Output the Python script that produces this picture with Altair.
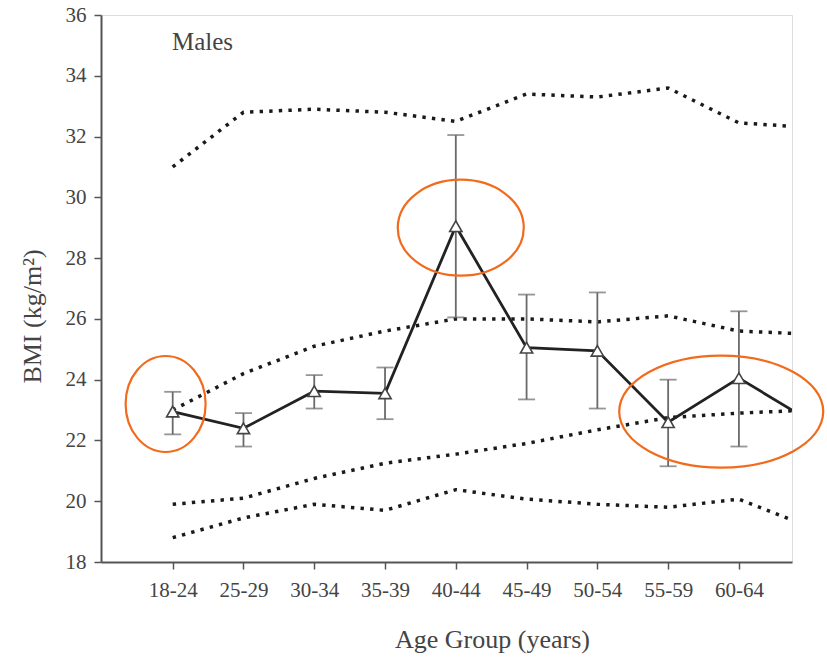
import altair as alt
import pandas as pd

# ---- data ----
age_groups = ["18-24", "25-29", "30-34", "35-39", "40-44", "45-49",
              "50-54", "55-59", "60-64", "65-69"]
bmi_mean = [22.95, 22.4, 23.62, 23.55, 29.05, 25.05, 24.95, 22.6, 24.05, 22.65]
bmi_low = [22.2, 21.8, 23.05, 22.7, 26.05, 23.35, 23.05, 21.15, 21.8]
bmi_high = [23.6, 22.9, 24.15, 24.4, 32.05, 26.8, 26.87, 24.0, 26.25]

pct_top = [31.0, 32.8, 32.9, 32.8, 32.5, 33.4, 33.3, 33.6, 32.45, 32.3]
pct_upper = [23.0, 24.2, 25.1, 25.6, 26.0, 26.0, 25.9, 26.1, 25.6, 25.5]
pct_mid = [19.9, 20.1, 20.75, 21.25, 21.55, 21.9, 22.35, 22.75, 22.9, 23.0]
pct_low = [18.8, 19.45, 19.9, 19.7, 20.38, 20.07, 19.9, 19.8, 20.07, 19.15]

# highlight ellipses (center in data units, width/height in px)
ell_x = [-0.1, 4.07, 7.75]
ell_y = [23.2, 29.0, 22.95]
ell_w = [80, 126, 204]
ell_h = [96, 96, 112]

# ---- tables ----
idx = list(range(len(age_groups)))
main_df = pd.DataFrame({"i": idx, "group": age_groups, "bmi": bmi_mean})
err_df = pd.DataFrame({"i": idx[:len(bmi_low)], "lo": bmi_low, "hi": bmi_high})
pct_rows = []
for name, vals in [("top", pct_top), ("upper", pct_upper), ("mid", pct_mid), ("low", pct_low)]:
    for i, v in zip(idx, vals):
        pct_rows.append({"i": i, "curve": name, "bmi": v})
pct_df = pd.DataFrame(pct_rows)

ell_rows = []
for cx, cy, w, h in zip(ell_x, ell_y, ell_w, ell_h):
    side = max(w, h)
    rx = w / side
    ry = h / side
    path = (f"M {-rx:.4f} 0 A {rx:.4f} {ry:.4f} 0 1 0 {rx:.4f} 0 "
            f"A {rx:.4f} {ry:.4f} 0 1 0 {-rx:.4f} 0 Z")
    ell_rows.append({"i": cx, "bmi": cy, "shape": path, "size": side * side})
ell_df = pd.DataFrame(ell_rows)

FONT = "Liberation Serif"
TXT = "#444444"
AX = "#555555"

label_expr = "[" + ",".join(f"'{g}'" for g in age_groups) + "][datum.value]"

x_scale = alt.Scale(domain=[-1.013, 8.75], nice=False, zero=False)
y_scale = alt.Scale(domain=[18, 36], nice=False, zero=False)

x_axis = alt.Axis(values=list(range(9)), labelExpr=label_expr, grid=False,
                  tickSize=7, tickWidth=1.5, tickColor=AX, domainColor=AX,
                  domainWidth=2, labelFont=FONT, labelFontSize=21, labelColor=TXT,
                  labelPadding=10, title="Age Group (years)", titleFont=FONT,
                  titleFontSize=26, titleFontWeight="normal", titleColor=TXT,
                  titleX=391, titleY=85, titleBaseline="alphabetic",
                  titleAlign="center")
y_axis = alt.Axis(values=list(range(18, 37, 2)), grid=False, tickSize=7,
                  tickWidth=1.5, tickColor=AX, domainColor=AX, domainWidth=2,
                  labelFont=FONT, labelFontSize=21, labelColor=TXT,
                  labelPadding=8, title="BMI (kg/m²)", titleFont=FONT,
                  titleFontSize=26, titleFontWeight="normal", titleColor=TXT,
                  titleAngle=270, titleX=-61, titleY=301,
                  titleBaseline="alphabetic", titleAlign="center")

X = alt.X("i:Q", scale=x_scale, axis=x_axis)
Y = alt.Y("bmi:Q", scale=y_scale, axis=y_axis)

dotted = alt.Chart(pct_df).mark_line(
    color="#1a1a1a", strokeWidth=3.5, strokeDash=[3.4, 6.2], clip=True
).encode(x=X, y=Y, detail="curve:N", order="i:Q")

err_rule = alt.Chart(err_df).mark_rule(color="#6a6a6a", strokeWidth=1.8).encode(
    x=alt.X("i:Q", scale=x_scale), y=alt.Y("lo:Q", scale=y_scale), y2="hi:Q")
err_top = alt.Chart(err_df).mark_tick(color="#6a6a6a", thickness=1.8, size=17,
                                      orient="horizontal").encode(
    x=alt.X("i:Q", scale=x_scale), y=alt.Y("hi:Q", scale=y_scale))
err_bot = alt.Chart(err_df).mark_tick(color="#6a6a6a", thickness=1.8, size=17,
                                      orient="horizontal").encode(
    x=alt.X("i:Q", scale=x_scale), y=alt.Y("lo:Q", scale=y_scale))

main_line = alt.Chart(main_df).mark_line(color="#222222", strokeWidth=2.8,
                                         clip=True).encode(x=X, y=Y, order="i:Q")
tri = alt.Chart(main_df).transform_filter("datum.i <= 8").mark_point(
    shape="triangle-up", filled=True, fill="white", stroke="#444444",
    strokeWidth=1.6, size=150, opacity=1).encode(x=X, y=Y)

ellipses = alt.Chart(ell_df).mark_point(
    filled=False, stroke="#F26B1D", strokeWidth=2.2, opacity=1
).encode(x=X, y=Y, shape=alt.Shape("shape:N", scale=None, legend=None),
         size=alt.Size("size:Q", scale=None, legend=None))

males = alt.Chart(pd.DataFrame({"t": ["Males"]})).mark_text(
    font=FONT, fontSize=25, color=TXT, align="left", baseline="middle"
).encode(text="t:N", x=alt.value(71), y=alt.value(27))

chart = alt.layer(dotted, err_rule, err_top, err_bot, main_line, tri, ellipses,
                  males).properties(
    width=691, height=547, autosize="none",
    padding={"left": 101, "top": 15, "right": 35, "bottom": 95}
).configure_view(stroke=None).configure(background="white")

chart.save("out.html", embed_options={"renderer": "svg", "actions": False})
